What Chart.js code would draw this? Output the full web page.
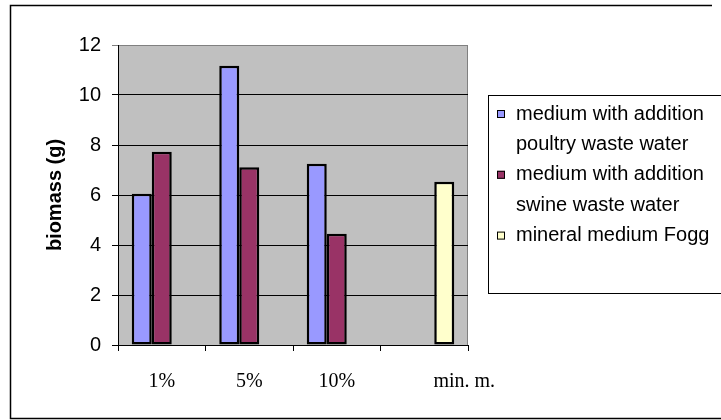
<!DOCTYPE html>
<html>
<head>
<meta charset="utf-8">
<script src="https://cdn.jsdelivr.net/npm/chart.js@4.4.1/dist/chart.umd.min.js"></script>
<style>
  html, body { margin: 0; padding: 0; background: #fff; }
  #wrap { width: 721px; height: 420px; }
</style>
</head>
<body>
<div id="wrap"><canvas id="c" width="721" height="420"></canvas></div>
<script>
// Biomass yield per medium and dilution
const categories = ['1%', '5%', '10%', 'min. m.'];
const poultry = [6.05, 11.17, 7.25, null];
const swine = [7.73, 7.11, 4.45, null];
const fogg = [null, null, null, 6.53];
const seriesNames = [
  ['medium with addition', 'poultry waste water'],
  ['medium with addition', 'swine waste water'],
  ['mineral medium Fogg']
];
const seriesColors = ['#9999FF', '#993366', '#FFFFCC'];
const yTicks = { min: 0, max: 12, step: 2 };
const yTitle = 'biomass (g)';

const SANS = '"Liberation Sans", Arial, sans-serif';
const SERIF = '"Liberation Serif", "Times New Roman", serif';

// Frame, grey plot background and the boxed legend on the right
const decor = {
  id: 'decor',
  beforeDraw(chart) {
    const { ctx, chartArea: a } = chart;
    ctx.save();
    ctx.fillStyle = '#fff';
    ctx.fillRect(0, 0, chart.width, chart.height);
    ctx.fillStyle = '#C0C0C0';
    ctx.fillRect(a.left, a.top, a.right - a.left, a.bottom - a.top);
    ctx.strokeStyle = '#808080';
    ctx.lineWidth = 1;
    ctx.beginPath();
    ctx.moveTo(a.left, a.top + 0.5);
    ctx.lineTo(a.right - 0.5, a.top + 0.5);
    ctx.lineTo(a.right - 0.5, a.bottom);
    ctx.stroke();
    // outer frame
    ctx.strokeStyle = '#000';
    ctx.lineWidth = 1.5;
    ctx.beginPath();
    ctx.moveTo(712, 5.5);
    ctx.lineTo(10.5, 5.5);
    ctx.lineTo(10.5, 418.5);
    ctx.lineTo(721, 418.5);
    ctx.stroke();
    ctx.restore();

    // the last category label sits right of its slot
    const items = chart.scales.x.getLabelItems();
    const last = items[items.length - 1];
    if (last && !last._shifted) {
      last.options.translation[0] += 40;
      last._shifted = true;
    }
  },
  afterDraw(chart) {
    const { ctx } = chart;
    ctx.save();
    ctx.strokeStyle = '#000';
    ctx.lineWidth = 1;
    ctx.strokeRect(488.5, 95.5, 260, 198);
    ctx.font = '20px ' + SANS;
    ctx.textBaseline = 'middle';
    ctx.textAlign = 'left';
    let y = 114;
    const step = 30.4;
    chart.data.datasets.forEach((ds, i) => {
      ctx.fillStyle = ds.backgroundColor;
      ctx.fillRect(497, y - 4, 8, 8);
      ctx.strokeStyle = '#000';
      ctx.strokeRect(497.5, y - 3.5, 7, 7);
      ctx.fillStyle = '#000';
      seriesNames[i].forEach(line => {
        ctx.fillText(line, 516, y);
        y += step;
      });
    });
    ctx.restore();
  }
};

const barStyle = { borderColor: '#000', borderWidth: 2.5, borderSkipped: false };

new Chart(document.getElementById('c'), {
  type: 'bar',
  data: {
    labels: categories,
    datasets: [
      Object.assign({ label: seriesNames[0].join(' '), data: poultry, backgroundColor: seriesColors[0] }, barStyle),
      Object.assign({ label: seriesNames[1].join(' '), data: swine, backgroundColor: seriesColors[1] }, barStyle),
      Object.assign({ label: seriesNames[2].join(' '), data: fogg, backgroundColor: seriesColors[2] }, barStyle)
    ]
  },
  options: {
    responsive: false,
    animation: false,
    events: [],
    layout: { padding: { left: 0, top: 45, right: 253, bottom: 0 } },
    datasets: {
      bar: {
        categoryPercentage: 60 / 87.5,
        barPercentage: 1
      }
    },
    plugins: {
      legend: { display: false },
      tooltip: { enabled: false }
    },
    scales: {
      x: {
        offset: true,
        grid: {
          offset: true,
          drawOnChartArea: false,
          drawTicks: true,
          tickLength: 6,
          color: '#000'
        },
        border: { color: '#000', width: 1 },
        ticks: {
          color: '#000',
          font: { family: SERIF, size: 20 },
          padding: 19,
          maxRotation: 0
        },
        afterFit(scale) { scale.height = 75; }
      },
      y: {
        min: yTicks.min,
        max: yTicks.max,
        ticks: {
          stepSize: yTicks.step,
          color: '#000',
          font: { family: SANS, size: 20 },
          padding: 11
        },
        grid: {
          color: ctx => (ctx.tick && ctx.tick.value === yTicks.max ? '#808080' : '#000'),
          lineWidth: 1,
          tickLength: 6,
          drawTicks: true
        },
        border: { color: '#000', width: 1 },
        title: {
          display: true,
          text: yTitle,
          color: '#000',
          font: { family: SANS, size: 20, weight: 'bold' },
          padding: { top: 43, bottom: 0 }
        },
        afterFit(scale) { scale.width = 118; }
      }
    }
  },
  plugins: [decor]
});
</script>
</body>
</html>
